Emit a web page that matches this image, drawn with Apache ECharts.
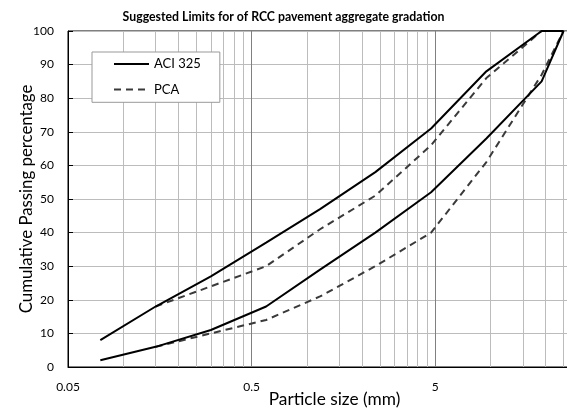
<!DOCTYPE html>
<html>
<head>
<meta charset="utf-8">
<script src="https://cdn.jsdelivr.net/npm/echarts@6/dist/echarts.min.js"></script>
<style>
  html, body { margin: 0; padding: 0; background: #fff; }
  #chart { width: 567px; height: 412px; }
</style>
</head>
<body>
<div id="chart"></div>
<script>
// Sieve sizes (mm) and gradation limits (% passing)
const sieveSizes = [0.075, 0.15, 0.3, 0.6, 1.18, 2.36, 4.75, 9.5, 19, 25];
const aciUpper   = [8, 18, 27, 37, 47, 58, 71, 88, 100, 100];
const aciLower   = [2, 6, 11, 18, 29, 40, 52, 68, 85, 100];
const pcaUpper   = [null, 18, 24, 30, 41, 51, 66, 86, 100, 100];
const pcaLower   = [null, 6, 10, 14, 21, 30, 40, 61, 87, 100];

// Axis labels and grid positions on the logarithmic size axis
const xLabelValues = [0.05, 0.5, 5];
const xGridValues = [
  0.05, 0.1, 0.15, 0.2, 0.25, 0.3, 0.35, 0.4, 0.45,
  0.5, 1, 1.5, 2, 2.5, 3, 3.5, 4, 4.5,
  5, 10, 15, 20, 25, 30, 35, 40
];
const yTicks = [0, 10, 20, 30, 40, 50, 60, 70, 80, 90, 100];

const FONT = 'Lato';

function pairs(values) {
  const out = [];
  sieveSizes.forEach((s, i) => { if (values[i] != null) out.push([s, values[i]]); });
  return out;
}

const solid = { color: '#000000', width: 2, type: 'solid' };
const dashed = { color: '#3a3a3a', width: 2, type: [7, 5] };

const chart = echarts.init(document.getElementById('chart'), null, { renderer: 'canvas' });
chart.setOption({
  animation: false,
  backgroundColor: '#ffffff',
  title: {
    text: 'Suggested Limits for of RCC pavement aggregate gradation',
    left: 'center',
    top: 6,
    padding: [5, 0, 5, 11],
    textStyle: { fontFamily: FONT, fontWeight: 'bold', fontSize: 12.3, color: '#000' }
  },
  legend: {
    orient: 'vertical',
    left: 92,
    top: 52,
    itemWidth: 35,
    itemHeight: 14,
    itemGap: 12.4,
    padding: [5.6, 19, 6.3, 21],
    borderColor: '#999999',
    borderWidth: 1,
    borderRadius: 0,
    backgroundColor: '#ffffff',
    itemStyle: { opacity: 0 },
    textStyle: { fontFamily: FONT, fontSize: 13, color: '#000' },
    data: ['ACI 325', 'PCA']
  },
  grid: {
    left: 68,
    top: 31,
    width: 533,
    bottom: 45,
    show: true,
    borderColor: '#000000',
    borderWidth: 1,
    containLabel: false,
    outerBoundsMode: 'none'
  },
  xAxis: {
    type: 'log',
    logBase: 10,
    min: 0.05,
    max: 40,
    name: 'Particle size (mm)',
    nameLocation: 'middle',
    nameGap: 24,
    nameMoveOverlap: false,
    nameTextStyle: { fontFamily: FONT, fontSize: 17.3, color: '#000' },
    axisLine: { show: true, lineStyle: { color: '#000', width: 1 } },
    axisTick: { show: false, customValues: xGridValues },
    axisLabel: {
      customValues: xLabelValues,
      fontFamily: FONT, fontSize: 12, color: '#000', margin: 14,
      formatter: v => String(v)
    },
    splitLine: {
      show: true,
      lineStyle: {
        color: ['#808080', '#bcbcbc', '#bcbcbc', '#bcbcbc', '#bcbcbc', '#bcbcbc', '#bcbcbc', '#bcbcbc', '#bcbcbc'],
        width: 1
      }
    },
    minorTick: { show: false },
    minorSplitLine: { show: false }
  },
  yAxis: {
    type: 'value',
    min: 0,
    max: 100,
    interval: 10,
    name: 'Cumulative Passing percentage',
    nameLocation: 'middle',
    nameGap: 33,
    nameMoveOverlap: false,
    nameTextStyle: { fontFamily: FONT, fontSize: 16.8, color: '#000' },
    axisLine: { show: true, lineStyle: { color: '#000', width: 1 } },
    axisTick: { show: true, inside: true, length: 5, lineStyle: { color: '#000' } },
    axisLabel: { fontFamily: FONT, fontSize: 12, color: '#000', margin: 14,
      formatter: v => (yTicks.indexOf(v) >= 0 ? String(v) : '') },
    splitLine: { show: true, lineStyle: { color: '#bcbcbc', width: 1 } }
  },
  series: [
    { name: 'PCA', type: 'line', data: pairs(pcaUpper), symbol: 'none', lineStyle: dashed, itemStyle: { color: '#3a3a3a' }, z: 3 },
    { name: 'PCA', type: 'line', data: pairs(pcaLower), symbol: 'none', lineStyle: dashed, itemStyle: { color: '#3a3a3a' }, z: 3 },
    { name: 'ACI 325', type: 'line', data: pairs(aciUpper), symbol: 'none', lineStyle: solid, itemStyle: { color: '#000' }, z: 4 },
    { name: 'ACI 325', type: 'line', data: pairs(aciLower), symbol: 'none', lineStyle: solid, itemStyle: { color: '#000' }, z: 4 }
  ]
});
</script>
</body>
</html>
